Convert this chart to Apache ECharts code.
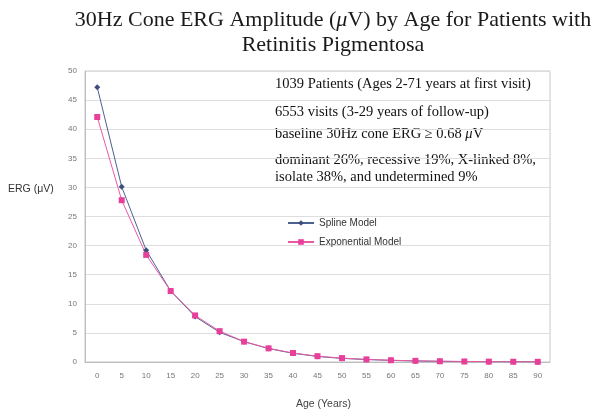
<!DOCTYPE html>
<html>
<head>
<meta charset="utf-8">
<script src="https://cdn.jsdelivr.net/npm/echarts@6/dist/echarts.min.js"></script>
<style>html,body{margin:0;padding:0;background:#fff;}#c{width:604px;height:415px;}</style>
</head>
<body>
<div id="c"></div>
<script>
var ages = ['0','5','10','15','20','25','30','35','40','45','50','55','60','65','70','75','80','85','90'];
var splineModel = [47.2,30.1,19.2,12.2,7.8,5.1,3.5,2.3,1.5,0.95,0.62,0.42,0.28,0.18,0.12,0.08,0.05,0.03,0.02];
var exponentialModel = [42.1,27.8,18.4,12.2,8.0,5.3,3.5,2.35,1.55,1.0,0.67,0.45,0.3,0.2,0.13,0.09,0.06,0.04,0.03];
var yTicks = {min:0, max:50, interval:5};

var chart = echarts.init(document.getElementById('c'), null, {renderer:'canvas'});
var serif = '"Liberation Serif","DejaVu Serif",serif';
var sans = '"Liberation Sans",Arial,sans-serif';
chart.setOption({
  animation:false,
  backgroundColor:'#fff',
  grid:{left:85, right:54, top:71, bottom:49, show:true, borderColor:'#c8c8c8', borderWidth:1},
  xAxis:{type:'category', data:ages, boundaryGap:true,
    axisLine:{lineStyle:{color:'#bdbdbd'}}, axisTick:{show:false},
    axisLabel:{color:'#777', fontSize:8, fontFamily:sans, margin:10},
    name:'Age (Years)', nameLocation:'middle', nameGap:37,
    nameTextStyle:{color:'#444', fontSize:10.5, fontFamily:sans, padding:[0,0,0,12]}},
  yAxis:{type:'value', min:yTicks.min, max:yTicks.max, interval:yTicks.interval,
    axisLine:{show:true, lineStyle:{color:'#bdbdbd'}}, axisTick:{show:false},
    axisLabel:{color:'#777', fontSize:8, fontFamily:sans, margin:8},
    splitLine:{lineStyle:{color:'#dedede'}}},
  legend:{orient:'vertical', left:282, top:213, itemWidth:26, itemHeight:7, itemGap:9,
    textStyle:{fontSize:10, fontFamily:sans, color:'#333'},
    data:['Spline Model','Exponential Model']},
  series:[
    {name:'Spline Model', type:'line', data:splineModel, symbol:'diamond', symbolSize:6,
     lineStyle:{color:'#4b6190', width:1}, itemStyle:{color:'#3c4f7c'}},
    {name:'Exponential Model', type:'line', data:exponentialModel, symbol:'rect', symbolSize:6,
     lineStyle:{color:'#e85aa5', width:1}, itemStyle:{color:'#e8409a'}}
  ],
  graphic:[
    {type:'text', x:333, y:8, style:{
      text:'30Hz Cone ERG Amplitude ({i|μ}V) by Age for Patients with\nRetinitis Pigmentosa',
      textAlign:'center', font:'22px '+serif, fill:'#1a1a1a', lineHeight:25,
      rich:{i:{fontStyle:'italic', fontSize:22, fontFamily:serif}}}},
    {type:'text', x:8, y:184, style:{text:'ERG (μV)', font:'10.5px '+sans, fill:'#333'}},
    {type:'text', x:275, y:77, style:{text:'1039 Patients (Ages 2-71 years at first visit)', font:'14.5px '+serif, fill:'#111'}},
    {type:'text', x:275, y:105, style:{text:'6553 visits (3-29 years of follow-up)', font:'14.5px '+serif, fill:'#111'}},
    {type:'text', x:275, y:127, style:{text:'baseline 30Hz cone ERG ≥ 0.68 {i|μ}V', font:'14.5px '+serif, fill:'#111',
      rich:{i:{fontStyle:'italic', fontSize:14.5, fontFamily:serif}}}},
    {type:'text', x:275, y:152, style:{text:'dominant 26%, recessive 19%, X-linked 8%,\nisolate 38%, and undetermined 9%', font:'14.5px '+serif, fill:'#111', lineHeight:17}}
  ]
});
</script>
</body>
</html>
